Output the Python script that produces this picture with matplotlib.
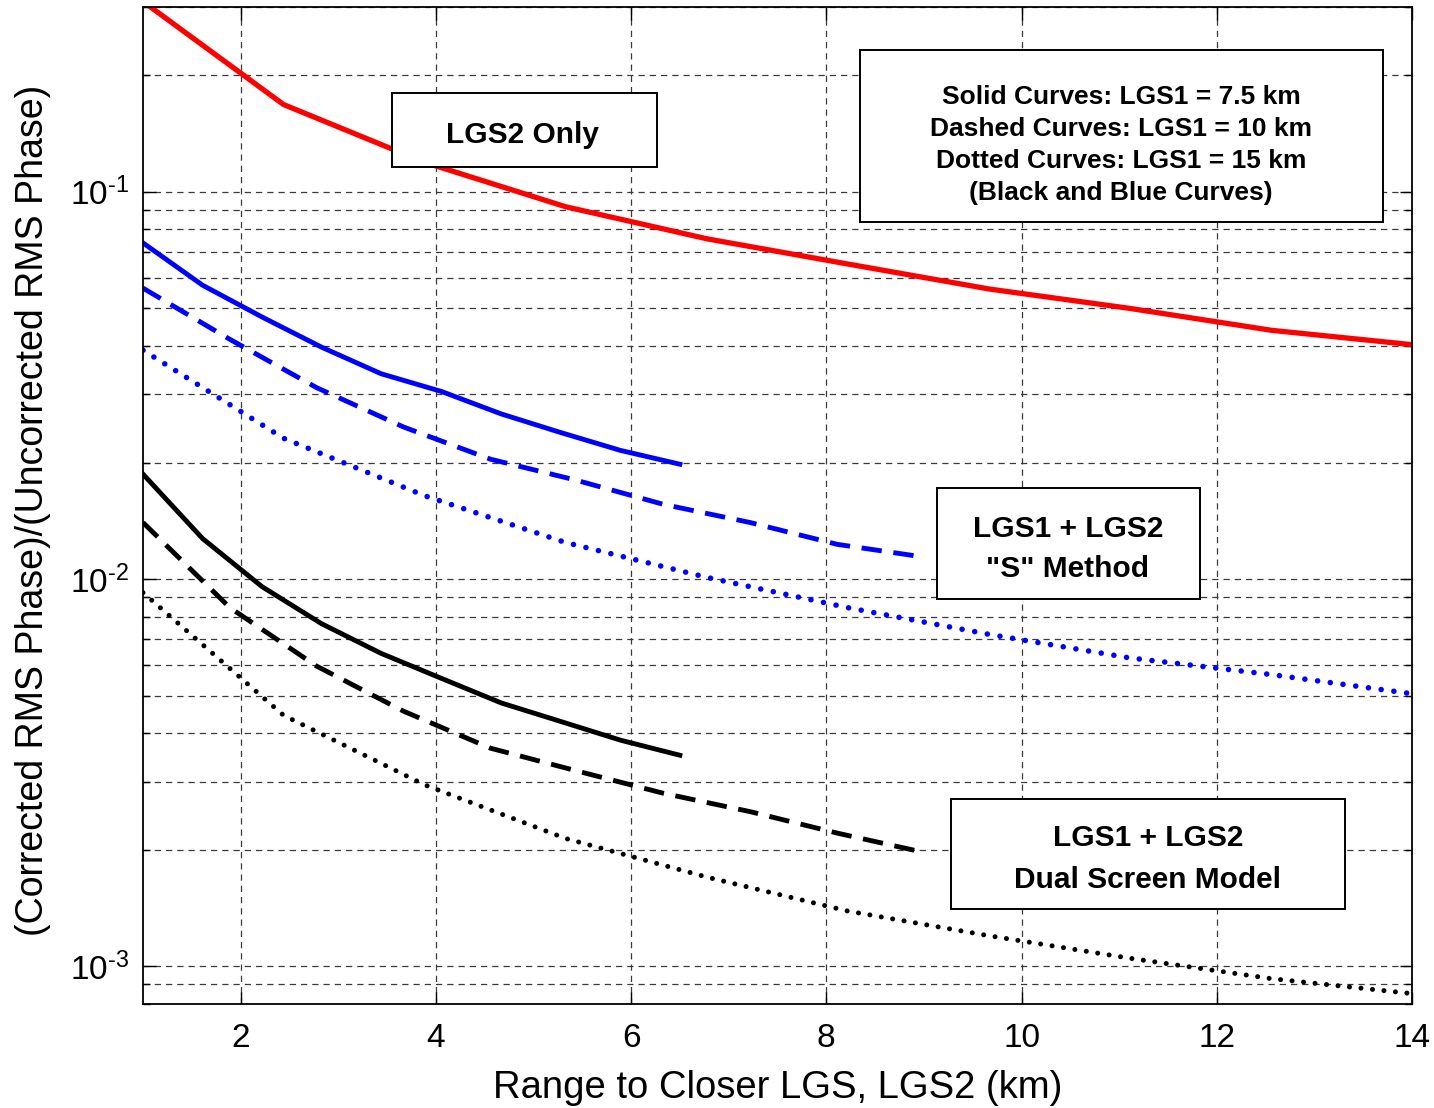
import matplotlib
matplotlib.use("Agg")
import matplotlib.pyplot as plt
from matplotlib.patches import Rectangle
from matplotlib.ticker import LogLocator, NullFormatter, FixedLocator, FuncFormatter
import numpy as np

plt.rcParams['font.family'] = ['Liberation Sans', 'DejaVu Sans']
plt.rcParams['mathtext.fontset'] = 'custom'
plt.rcParams['mathtext.rm'] = 'Liberation Sans'
plt.rcParams['mathtext.it'] = 'Liberation Sans'

# Range to LGS2 (km) for each LGS1 altitude
range_75 = [1.0, 1.61, 2.22, 2.83, 3.44, 4.06, 4.67, 5.28, 5.89, 6.5]
range_10 = [1.0, 1.89, 2.78, 3.67, 4.56, 5.44, 6.33, 7.22, 8.11, 9.0]
range_15 = [1.0, 2.44, 3.89, 5.33, 6.78, 8.22, 9.67, 11.11, 12.56, 14.0]

# LGS2 only (red)
lgs2_only = [0.31, 0.168, 0.119, 0.0915, 0.0756, 0.0651, 0.0561, 0.0500, 0.0439, 0.0403]

# LGS1 + LGS2, "S" method (blue)
s_75 = [0.0738, 0.0574, 0.0475, 0.0397, 0.0339, 0.0305, 0.0267, 0.0239, 0.0215, 0.0198]
s_10 = [0.0564, 0.0416, 0.0312, 0.0247, 0.0204, 0.0180, 0.0156, 0.0140, 0.0123, 0.0114]
s_15 = [0.0390, 0.0231, 0.0164, 0.01243, 0.0101, 0.00844, 0.0072, 0.00626, 0.00567, 0.00506]

# LGS1 + LGS2, dual screen model (black)
dual_75 = [0.01867, 0.01273, 0.00956, 0.00767, 0.00643, 0.00554, 0.00479, 0.00429, 0.00384, 0.00351]
dual_10 = [0.0140, 0.00844, 0.00596, 0.00456, 0.00366, 0.0032, 0.0028, 0.00251, 0.00221, 0.00197]
dual_15 = [0.00923, 0.00445, 0.00294, 0.00214, 0.0017, 0.00139, 0.0012, 0.00105, 0.00093, 0.000851]

x_ticks = [2, 4, 6, 8, 10, 12, 14]

W, H = 1434, 1108
fig = plt.figure(figsize=(W / 100, H / 100), dpi=100)
ax = fig.add_axes([143 / W, 1 - 1004 / H, (1412 - 143) / W, (1004 - 7) / H])

DASH = (0, (4.2, 2.4))
DOT = (0, (0.01, 2.3))
LW = 3.5

ax.plot(range_15, lgs2_only, color='#ff0000', lw=3.8, solid_joinstyle='round')

ax.plot(range_75, s_75, color='#0000ff', lw=LW)
ax.plot(range_10, s_10, color='#0000ff', lw=LW, ls=DASH)
ax.plot(range_15, s_15, color='#0000ff', lw=4.0, ls=DOT, dash_capstyle='round')

ax.plot(range_75, dual_75, color='black', lw=LW)
ax.plot(range_10, dual_10, color='black', lw=LW, ls=DASH)
ax.plot(range_15, dual_15, color='black', lw=3.6, ls=DOT, dash_capstyle='round')

ax.set_yscale('log')
ax.set_xlim(1, 14)
ax.set_ylim(8e-4, 0.3)
ax.xaxis.set_major_locator(FixedLocator(x_ticks))
ax.set_xticklabels([str(t) for t in x_ticks])
ax.yaxis.set_major_locator(LogLocator(base=10))
ax.yaxis.set_minor_locator(LogLocator(base=10, subs=range(2, 10)))
ax.yaxis.set_minor_formatter(NullFormatter())


def decade_label(v, pos):
    k = int(round(np.log10(v)))
    return r'$\mathdefault{10^{\text{%d}}}$' % k


ax.yaxis.set_major_formatter(FuncFormatter(decade_label))

grid_kw = dict(ls=(0, (5, 4)), color='#3a3a3a', lw=0.9)
ax.grid(True, which='major', axis='both', **grid_kw)
ax.grid(True, which='minor', axis='y', **grid_kw)
ax.set_axisbelow(True)

ax.tick_params(which='both', direction='in', top=True, right=True, width=1.0,
               labelsize=24, colors='black')
ax.tick_params(which='major', length=9)
ax.tick_params(which='minor', length=5)
ax.tick_params(axis='x', pad=14)
ax.tick_params(axis='y', pad=10)
for s in ax.spines.values():
    s.set_linewidth(1.3)

ax.set_xlabel('Range to Closer LGS, LGS2 (km)', fontsize=27.5, va='center')
ax.xaxis.set_label_coords(0.5, -0.0845)
ax.set_ylabel('(Corrected RMS Phase)/(Uncorrected RMS Phase)', fontsize=27, va='center')
ax.yaxis.set_label_coords(-0.0867, 0.4955)


def px_box(x0, y0, x1, y1):
    fig.patches.append(Rectangle((x0 / W, 1 - y1 / H), (x1 - x0) / W, (y1 - y0) / H,
                                 transform=fig.transFigure, facecolor='white',
                                 edgecolor='black', lw=1.4, zorder=5))


def px_text(x, y, s, size):
    fig.text(x / W, 1 - y / H, s, ha='center', va='baseline', fontsize=size,
             fontweight='bold', zorder=6)


px_box(392, 93, 657, 167)
px_text(522, 143, 'LGS2 Only', 21.5)

px_box(860, 50, 1383, 222)
for yb, line in zip([104, 136, 168, 200],
                    ['Solid Curves: LGS1 = 7.5 km', 'Dashed Curves: LGS1 = 10 km',
                     'Dotted Curves: LGS1 = 15 km', '(Black and Blue Curves)']):
    px_text(1121, yb, line, 19)

px_box(937, 488, 1200, 599)
px_text(1068, 537, 'LGS1 + LGS2', 21.5)
px_text(1068, 577, '"S" Method', 21.5)

px_box(951, 799, 1345, 909)
px_text(1148, 846, 'LGS1 + LGS2', 21.5)
px_text(1148, 888, 'Dual Screen Model', 21.5)

fig.savefig('out.png', dpi=100, facecolor='white')
